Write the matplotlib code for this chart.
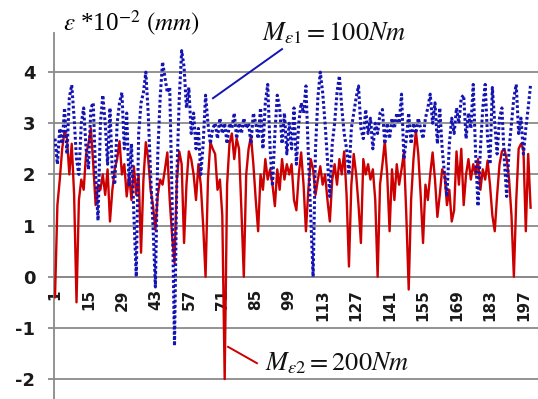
import matplotlib
matplotlib.use('Agg')
import matplotlib.pyplot as plt
import numpy as np

plt.rcParams['mathtext.fontset'] = 'stix'
plt.rcParams['font.family'] = 'DejaVu Sans'
plt.rcParams['axes.unicode_minus'] = False

# measuring points 1..200
cats = np.arange(1, 201)

# deformation for M=100Nm (blue, dotted)
eps_100 = [2.7, 2.2, 2.9, 2.6, 3.3, 2.4, 3.5, 3.75, 3.1, 2.3,
           2.0, 3.0, 3.3, 2.5, 2.1, 3.3, 3.4, 2.0, 1.1, 3.0,
           3.55, 3.0, 2.2, 3.3, 2.0, 1.8, 3.0, 3.4, 3.6, 2.5,
           3.2, 1.8, 2.6, 1.2, 0.0, 2.8, 3.4, 3.6, 4.0, 3.2,
           2.0, 1.0, -0.2, 2.4, 3.5, 4.2, 3.9, 3.6, 3.7, 1.5,
           -1.35, 2.0, 3.5, 4.42, 4.1, 3.3, 3.7, 2.8, 3.2, 2.5,
           2.9, 2.0, 2.6, 3.55, 3.0, 2.6, 2.9, 3.0, 2.7, 3.1,
           2.8, 3.0, 2.6, 3.0, 2.9, 3.2, 2.7, 3.0, 2.8, 3.1,
           2.9, 3.0, 2.6, 3.2, 3.0, 2.7, 3.3, 2.5, 3.4, 3.76,
           2.5, 1.77, 2.8, 3.55, 3.3, 2.6, 3.2, 2.4, 3.0, 2.5,
           3.3, 2.2, 3.0, 3.4, 3.2, 3.73, 2.4, 1.2, 0.0, 2.5,
           3.5, 4.0, 3.6, 3.0, 2.3, 1.57, 2.6, 3.0, 3.6, 3.93,
           3.3, 2.8, 2.5, 2.0, 2.9, 3.2, 3.5, 3.73, 2.9, 2.7,
           3.27, 2.8, 3.1, 2.5, 3.0, 2.8, 3.2, 3.27, 2.6, 3.0,
           2.7, 3.1, 2.9, 3.2, 3.0, 3.57, 2.3, 2.7, 3.2, 2.6,
           3.0, 2.8, 3.1, 2.9, 2.7, 3.1, 3.3, 3.57, 3.0, 3.4,
           2.6, 3.3, 2.5, 2.0, 1.57, 2.6, 3.1, 2.8, 3.3, 3.0,
           3.5, 3.55, 2.7, 3.2, 2.9, 3.76, 2.4, 1.38, 2.5, 3.3,
           3.76, 2.7, 2.2, 3.7, 3.0, 2.4, 3.1, 3.3, 2.3, 1.57,
           2.5, 3.0, 3.5, 3.76, 2.8, 3.1, 2.4, 2.9, 3.3, 3.76]

# deformation for M=200Nm (red, solid)
eps_200 = [-0.4, 1.4, 1.9, 2.5, 2.85, 2.7, 2.0, 2.6, 1.6, -0.5,
           1.5, 1.9, 1.7, 2.4, 2.6, 2.9, 2.2, 1.4, 1.8, 1.7,
           2.0, 1.6, 2.1, 1.08, 1.7, 2.1, 2.3, 2.65, 2.0, 2.2,
           1.57, 2.0, 1.5, 2.16, 1.6, 2.0, 0.47, 1.9, 2.63, 2.3,
           1.7, 1.4, 0.92, 1.6, 1.9, 1.8, 2.1, 2.43, 1.5, 0.8,
           0.27, 1.9, 2.45, 2.2, 0.66, 1.8, 2.45, 2.3, 2.0, 1.5,
           2.2, 1.8, 1.0, 0.0, 1.9, 2.63, 2.5, 2.4, 1.7, 1.9,
           1.2, -2.0, 1.8, 2.6, 2.8, 2.3, 2.7, 2.5, 1.3, 0.0,
           2.0, 2.5, 2.75, 2.2, 1.5, 0.89, 2.0, 1.7, 2.3, 1.9,
           2.1, 1.8, 1.38, 2.1, 1.7, 2.3, 1.9, 2.2, 2.0, 2.2,
           1.5, 1.3, 2.0, 2.43, 1.8, 0.89, 1.7, 2.3, 2.1, 1.6,
           1.9, 2.16, 1.8, 2.0, 1.5, 1.08, 1.9, 2.2, 1.8, 2.3,
           2.0, 2.45, 1.6, 0.2, 1.8, 2.4, 2.0, 1.4, 0.66, 2.3,
           2.0, 2.2, 1.9, 2.1, 1.5, 0.0, 1.8, 2.2, 2.65, 2.0,
           0.89, 2.1, 1.5, 2.2, 1.8, 2.1, 2.43, 1.2, -0.25, 1.5,
           2.3, 2.85, 2.4, 1.6, 0.66, 1.8, 1.5, 2.0, 2.43, 1.9,
           1.17, 1.6, 2.1, 2.0, 1.4, 1.7, 1.08, 1.3, 2.45, 1.8,
           2.5, 1.4, 2.0, 2.3, 1.9, 2.2, 2.0, 2.3, 1.7, 2.1,
           1.9, 2.27, 1.8, 1.2, 0.89, 1.6, 2.2, 2.45, 2.5, 2.3,
           1.9, 1.2, 0.0, 1.5, 2.5, 2.6, 2.5, 0.89, 2.4, 1.35]

tick_cats = list(range(1, 201, 14))
y_ticks = [-2, -1, 0, 1, 2, 3, 4]

grid_col = '#8a8a8a'
blue = '#1414b4'
red = '#cc0000'

fig = plt.figure(figsize=(5.38, 3.99), dpi=100)
ax = fig.add_axes([54 / 538, 0, 1 - 54 / 538, 1 - 33 / 399])

ax.plot(cats, eps_200, color=red, lw=1.7, zorder=3)
ax.plot(cats, eps_100, color=blue, lw=2.2, ls=(0, (0.9, 0.8)), zorder=4)

ax.set_xlim(0.58, 203.1)
ax.set_ylim(-2.39, 4.765)
ax.set_yticks(y_ticks)
ax.set_xticks(tick_cats)
ax.set_xticklabels([str(t) for t in tick_cats])
ax.grid(axis='y', color=grid_col, lw=1.3)
ax.set_axisbelow(True)

for s in ['top', 'right']:
    ax.spines[s].set_visible(False)
ax.spines['left'].set_color(grid_col)
ax.spines['left'].set_linewidth(1.3)
ax.spines['bottom'].set_position(('data', 0))
ax.spines['bottom'].set_color(grid_col)
ax.spines['bottom'].set_linewidth(1.3)

ax.tick_params(axis='x', length=0, pad=9, labelsize=11, labelrotation=90)
ax.tick_params(axis='y', length=4.5, color=grid_col, width=1.3, pad=9,
               labelsize=13)
for lab in ax.get_xticklabels() + ax.get_yticklabels():
    lab.set_fontweight('bold')
    lab.set_color('#1a1a1a')

# axis title
fig.text(63 / 538, 1 - 31 / 399, r'$\varepsilon$ *10$^{-2}$ $\mathit{(mm)}$',
         fontsize=18, family='Liberation Serif')

# labels of the two curves
ax.plot([67.1, 96.0], [3.49, 4.45], color=blue, lw=1.4, zorder=5,
        clip_on=False)
ax.text(87.6, 4.62, r'$\mathit{M_{\varepsilon 1}{=}100Nm}$', fontsize=19,
        color='#111111', clip_on=False)
ax.plot([73.4, 85.5], [-1.37, -1.69], color=red, lw=1.4, zorder=5)
ax.text(88.9, -1.84, r'$\mathit{M_{\varepsilon 2}{=}200Nm}$', fontsize=19,
        color='#111111')

fig.savefig('out.png', dpi=100)
